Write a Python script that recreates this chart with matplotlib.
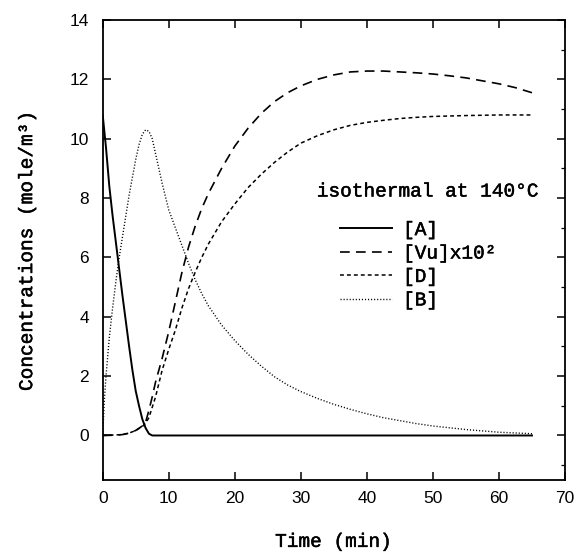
import matplotlib
matplotlib.use("Agg")
import matplotlib.pyplot as plt
import matplotlib.patheffects as pe
from matplotlib.ticker import MultipleLocator

plt.rcParams['lines.scale_dashes'] = False

# [A] (solid)
t_a = [0, 0.5, 1, 1.5, 2, 2.5, 3, 3.5, 4, 4.5, 5, 5.5, 6, 6.5, 7, 7.5, 10, 20, 30, 40, 50, 60, 65]
c_a = [10.8, 9.7, 8.4, 7.4, 6.5, 5.6, 4.7, 3.85, 3.0, 2.2, 1.5, 1.0, 0.55, 0.25, 0.06, 0.0,
       0.0, 0.0, 0.0, 0.0, 0.0, 0.0, 0.0]

# [B] (dotted)
t_b = [0, 0.25, 0.5, 1, 1.5, 2, 2.5, 3, 3.5, 4, 4.5, 5, 5.5, 6, 6.5, 7, 7.5, 8, 9, 10,
       11, 12, 13, 14, 15, 16, 18, 20, 22, 24, 26, 28, 30, 32.5, 35, 37.5, 40, 42.5,
       45, 47.5, 50, 55, 60, 65]
c_b = [0.0, 1.2, 2.0, 3.3, 4.3, 5.2, 6.0, 6.7, 7.4, 8.1, 8.7, 9.3, 9.8, 10.15, 10.3, 10.25,
       10.0, 9.5, 8.5, 7.6, 7.0, 6.4, 5.8, 5.25, 4.78, 4.37, 3.72, 3.2, 2.74, 2.34, 1.98, 1.7,
       1.48, 1.25, 1.05, 0.88, 0.73, 0.6, 0.5, 0.4, 0.32, 0.2, 0.11, 0.06]

# [Vu] x 10^2 (long dashes)
t_vu = [0, 2, 3, 4, 5, 6, 6.5, 7, 7.5, 8, 9, 10, 11, 12, 13, 14, 15, 16, 18, 20, 22, 24,
        26, 28, 30, 32.5, 35, 37.5, 40, 42.5, 45, 47.5, 50, 52.5, 55, 57.5, 60, 62.5, 65]
c_vu = [0.0, 0.01, 0.03, 0.08, 0.17, 0.32, 0.45, 0.85, 1.3, 1.8, 2.6, 3.5, 4.5, 5.5, 6.35,
        7.05, 7.65, 8.15, 9.0, 9.75, 10.35, 10.85, 11.25, 11.55, 11.78, 12.0, 12.15, 12.25,
        12.28, 12.28, 12.25, 12.22, 12.18, 12.12, 12.05, 11.95, 11.85, 11.72, 11.55]

# [D] (short dashes)
t_d = [0, 3, 4, 5, 6, 6.5, 7, 7.5, 8, 9, 10, 11, 12, 13, 14, 15, 16, 18, 20, 22, 24, 26,
       28, 30, 32.5, 35, 37.5, 40, 42.5, 45, 47.5, 50, 55, 60, 65]
c_d = [0.0, 0.03, 0.08, 0.17, 0.3, 0.42, 0.6, 0.95, 1.3, 2.2, 2.9, 3.55, 4.3, 4.95, 5.5,
       6.0, 6.45, 7.2, 7.8, 8.35, 8.8, 9.2, 9.55, 9.85, 10.1, 10.3, 10.45, 10.55, 10.62,
       10.68, 10.72, 10.75, 10.78, 10.8, 10.8]

mono = 'Liberation Mono'
sans = 'Liberation Sans'
ink = [pe.withStroke(linewidth=0.35, foreground='black')]

fig = plt.figure(figsize=(5.79, 5.52), dpi=100)
ax = fig.add_axes([102.7 / 579, 1 - 480 / 552, (565 - 102.7) / 579, (480 - 20) / 552])

ax.plot(t_a, c_a, color='black', lw=1.4, label='[A]')
ax.plot(t_vu, c_vu, color='black', lw=1.2, dashes=(7, 4.5), label='[Vu]x10²')
ax.plot(t_d, c_d, color='black', lw=1.1, dashes=(2.8, 2.2), label='[D]')
ax.plot(t_b, c_b, color='black', lw=1.0, dashes=(0.8, 1.4), label='[B]')

ax.set_xlim(0, 70)
ax.set_ylim(-1.5, 14)
ax.xaxis.set_major_locator(MultipleLocator(10))
ax.yaxis.set_major_locator(MultipleLocator(2))

ax.tick_params(axis='both', which='major', direction='in', length=6, width=1.1,
               top=True, right=True, labelsize=12.5, pad=10)
ax.tick_params(axis='x', pad=8)
ax.yaxis.set_minor_locator(MultipleLocator(1))
ax.tick_params(axis='y', which='minor', direction='in', length=3, width=0.9,
               left=False, right=True)
for lab in ax.get_xticklabels() + ax.get_yticklabels():
    lab.set_family(sans)
for sp in ax.spines.values():
    sp.set_linewidth(1.3)

ax.set_xlabel('Time (min)', family=mono, fontsize=14, labelpad=20, path_effects=ink)
ax.set_ylabel('Concentrations (mole/m³)', family=mono, fontsize=14, labelpad=24,
              path_effects=ink)

ax.text(0.946, 0.626, 'isothermal at 140°C', transform=ax.transAxes, family=mono,
        fontsize=14, ha='right', va='center', path_effects=ink)
leg = ax.legend(loc='upper left', bbox_to_anchor=(0.513, 0.562), frameon=False,
                prop={'family': mono, 'size': 14}, handlelength=2.7,
                handletextpad=0.55, labelspacing=0.3, borderpad=0, borderaxespad=0)
for txt in leg.get_texts():
    txt.set_path_effects(ink)

fig.savefig('out.png', dpi=100)
